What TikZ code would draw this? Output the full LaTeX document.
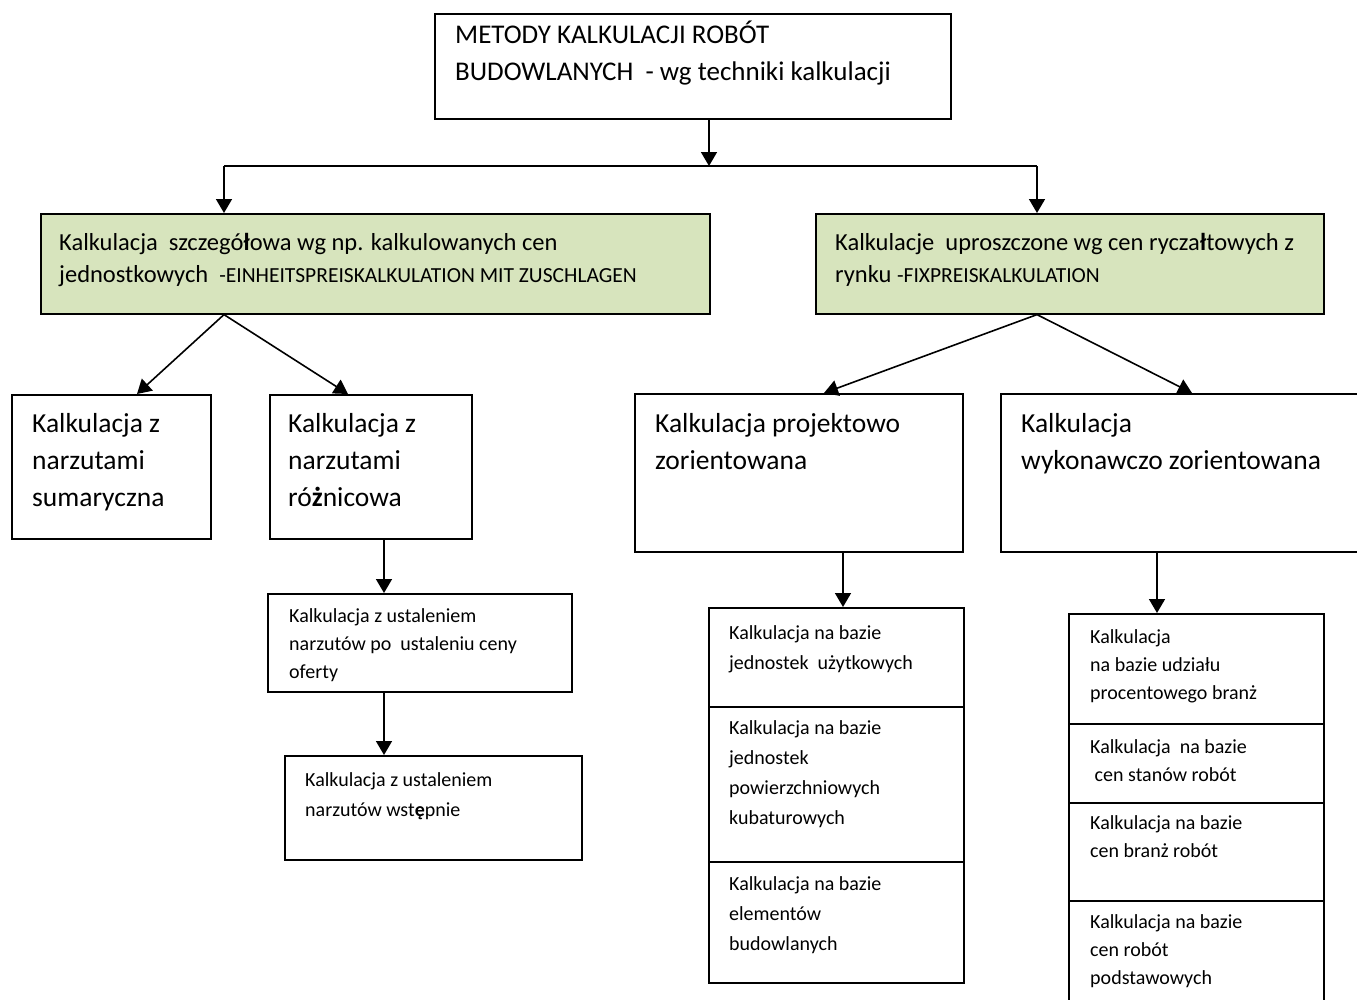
\documentclass[tikz,border=0pt]{standalone}
\usepackage{fontspec}
\setmainfont{Carlito}
\usetikzlibrary{arrows.meta,calc}
\definecolor{boxgreen}{HTML}{D7E4BD}
% multi-line text whose base anchor sits on the first line
\newcommand{\ml}[1]{\begin{tabular}[t]{@{}l@{}}#1\end{tabular}}
\newcommand{\capsz}{\fontsize{21.5}{32}\selectfont}

\tikzset{
  box/.style={draw, line width=1.6pt, rectangle, inner sep=0pt, anchor=north west},
  greenbox/.style={box, fill=boxgreen},
  txt/.style={anchor=base west, inner sep=0pt},
  toptxt/.style={txt, font=\fontsize{27}{37}\selectfont},
  greentxt/.style={txt, font=\fontsize{24.5}{32}\selectfont},
  bigtxt/.style={txt, font=\fontsize{27.5}{37}\selectfont},
  smalltxt/.style={txt, font=\fontsize{20}{28}\selectfont},
  smalltxtw/.style={txt, font=\fontsize{20}{30}\selectfont},
  conn/.style={line width=1.6pt},
  arr/.style={conn, -{Triangle[length=14pt,width=16pt]}},
}

\begin{document}
\begin{tikzpicture}[x=1pt, y=-1pt]
\useasboundingbox (0,0) rectangle (1357,999);
\fill[white] (0,0) rectangle (1357,999);
\clip (0,0) rectangle (1357,999);

% boxes
\node[box, minimum width=516pt, minimum height=105pt] (top) at (434,13) {};
\node[greenbox, minimum width=669pt, minimum height=100pt] (gL) at (40,213) {};
\node[greenbox, minimum width=508pt, minimum height=100pt] (gR) at (815,213) {};
\node[box, minimum width=199pt, minimum height=144pt] (A) at (11,394) {};
\node[box, minimum width=202pt, minimum height=144pt] (B) at (269,394) {};
\node[box, minimum width=304pt, minimum height=98pt] (C) at (267,593) {};
\node[box, minimum width=297pt, minimum height=104pt] (D) at (284,755) {};
\node[box, minimum width=328pt, minimum height=158pt] (E) at (634,393) {};
\node[box, minimum width=380pt, minimum height=158pt] (F) at (1000,393) {};
\node[box, minimum width=255pt, minimum height=99pt] (G1) at (708,607) {};
\node[box, minimum width=255pt, minimum height=155pt] (G2) at (708,706) {};
\node[box, minimum width=255pt, minimum height=121pt] (G3) at (708,861) {};
\node[box, minimum width=255pt, minimum height=110pt] (H1) at (1068,613) {};
\node[box, minimum width=255pt, minimum height=79pt] (H2) at (1068,723) {};
\node[box, minimum width=255pt, minimum height=98pt] (H3) at (1068,802) {};
\node[box, minimum width=255pt, minimum height=130pt] (H4) at (1068,900) {};

% texts
\node[toptxt] (topT) at (455,43) {\ml{METODY KALKULACJI ROBÓT\\BUDOWLANYCH~ - wg techniki kalkulacji}};
\node[greentxt] (gLT) at (59,250) {\ml{Kalkulacja~ szczegó\textbf{ł}owa wg np. kalkulowanych cen\\jednostkowych~ {\capsz -EINHEITSPREISKALKULATION MIT ZUSCHLAGEN}}};
\node[greentxt] (gRT) at (835,250) {\ml{Kalkulacje~ uproszczone wg cen rycza\textbf{ł}towych z\\rynku {\capsz -FIXPREISKALKULATION}}};
\node[bigtxt] (AT) at (32,432) {\ml{Kalkulacja z\\narzutami\\sumaryczna}};
\node[bigtxt] (BT) at (288,432) {\ml{Kalkulacja z\\narzutami\\ró\textbf{ż}nicowa}};
\node[bigtxt] (ET) at (655,432) {\ml{Kalkulacja projektowo\\zorientowana}};
\node[bigtxt] (FT) at (1021,432) {\ml{Kalkulacja\\wykonawczo zorientowana}};
\node[smalltxt] (CT) at (289,622) {\ml{Kalkulacja z ustaleniem\\narzutów po~ ustaleniu ceny\\oferty}};
\node[smalltxtw] (DT) at (305,786) {\ml{Kalkulacja z ustaleniem\\narzutów wst\textbf{ę}pnie}};
\node[smalltxtw] (G1T) at (729,639) {\ml{Kalkulacja na bazie\\jednostek~ użytkowych}};
\node[smalltxtw] (G2T) at (729,734) {\ml{Kalkulacja na bazie\\jednostek\\powierzchniowych\\kubaturowych}};
\node[smalltxtw] (G3T) at (729,890) {\ml{Kalkulacja na bazie\\elementów\\budowlanych}};
\node[smalltxt] (H1T) at (1090,643) {\ml{Kalkulacja\\na bazie udziału\\procentowego branż}};
\node[smalltxt] (H2T) at (1090,753) {\ml{Kalkulacja~ na bazie\\~cen stanów robót}};
\node[smalltxt] (H3T) at (1090,829) {\ml{Kalkulacja na bazie\\cen branż robót}};
\node[smalltxt] (H4T) at (1090,928) {\ml{Kalkulacja na bazie\\cen robót\\podstawowych}};

% connector columns
\coordinate (bus) at (709,166);
\coordinate (xL) at (224,0);
\coordinate (xR) at (1037,0);
\coordinate (xA) at (137,0);
\coordinate (xBt) at (348,0);
\coordinate (xE) at (824,0);
\coordinate (xF) at (1192,0);
\coordinate (xB) at (384,0);
\coordinate (xG) at (843,0);
\coordinate (xH) at (1157,0);

% connectors
\draw[arr] (top.south -| bus) -- (bus);
\draw[conn] (bus -| xL) -- (bus -| xR);
\draw[arr] (bus -| xL) -- (gL.north -| xL);
\draw[arr] (bus -| xR) -- (gR.north -| xR);
\draw[arr] (gL.south -| xL) -- (A.north -| xA);
\draw[arr] (gL.south -| xL) -- (B.north -| xBt);
\draw[arr] (gR.south -| xR) -- (E.north -| xE);
\draw[arr] (gR.south -| xR) -- (F.north -| xF);
\draw[arr] (B.south -| xB) -- (C.north -| xB);
\draw[arr] (C.south -| xB) -- (D.north -| xB);
\draw[arr] (E.south -| xG) -- (G1.north -| xG);
\draw[arr] (F.south -| xH) -- (H1.north -| xH);
\end{tikzpicture}
\end{document}
